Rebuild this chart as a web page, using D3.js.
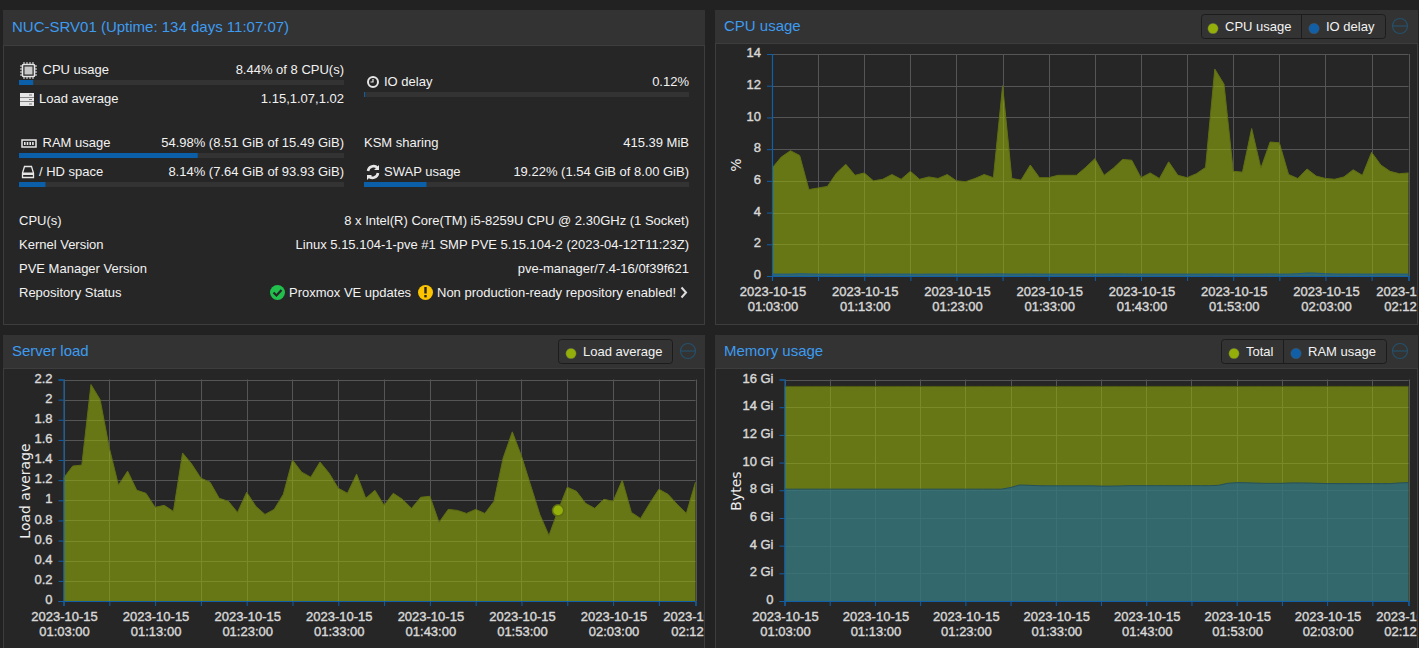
<!DOCTYPE html>
<html>
<head>
<meta charset="utf-8">
<script src="https://cdn.jsdelivr.net/npm/d3@7"></script>
<style>
  html, body { margin: 0; padding: 0; background: #222; overflow: hidden; }
  text { font-family: "Liberation Sans", Arial, sans-serif; }
</style>
</head>
<body>
<script>
var cpuValues = [6.8, 7.5, 7.9, 7.6, 5.45, 5.55, 5.65, 6.5, 7.05, 6.35, 6.5, 6.0, 6.1, 6.4, 6.1, 6.6, 6.1, 6.25, 6.15, 6.4,
  6.0, 5.95, 6.15, 6.4, 6.2, 12.0, 6.15, 6.05, 7.0, 6.2, 6.2, 6.35, 6.35, 6.35, 6.85, 7.4, 6.35, 6.8, 7.35, 7.3,
  6.2, 6.5, 6.15, 7.2, 6.35, 6.2, 6.45, 6.85, 13.05, 12.1, 6.6, 6.55, 9.3, 6.8, 8.45, 8.4, 6.4, 6.15, 6.75, 6.3,
  6.15, 6.1, 6.25, 6.7, 6.35, 7.8, 7.0, 6.6, 6.45, 6.5];
var ioValues = [0.12, 0.12, 0.12, 0.14, 0.13, 0.12, 0.12, 0.11, 0.12, 0.12, 0.12, 0.12, 0.12, 0.13, 0.12, 0.12, 0.11, 0.12, 0.12, 0.12,
  0.12, 0.12, 0.12, 0.12, 0.13, 0.13, 0.12, 0.12, 0.13, 0.12, 0.12, 0.12, 0.12, 0.12, 0.12, 0.12, 0.12, 0.13, 0.13, 0.12,
  0.12, 0.12, 0.12, 0.12, 0.12, 0.12, 0.12, 0.12, 0.13, 0.12, 0.12, 0.12, 0.12, 0.12, 0.13, 0.12, 0.12, 0.14, 0.19, 0.18,
  0.14, 0.13, 0.12, 0.13, 0.12, 0.12, 0.13, 0.13, 0.12, 0.12];
var loadValues = [1.22, 1.34, 1.35, 2.15, 2.0, 1.52, 1.15, 1.29, 1.10, 1.07, 0.93, 0.95, 0.89, 1.47, 1.36, 1.22, 1.18, 1.02, 0.99, 0.88,
  1.08, 0.94, 0.86, 0.91, 1.06, 1.40, 1.28, 1.23, 1.38, 1.27, 1.12, 1.07, 1.26, 1.02, 1.10, 0.95, 1.07, 1.01, 0.92, 1.03,
  1.04, 0.78, 0.91, 0.90, 0.87, 0.91, 0.87, 0.99, 1.42, 1.68, 1.44, 1.15, 0.86, 0.65, 0.90, 1.13, 1.09, 0.97, 0.92, 1.01,
  0.99, 1.20, 0.88, 0.82, 0.97, 1.11, 1.06, 0.96, 0.87, 1.18];
var memTotal = [15.5, 15.5, 15.5, 15.5, 15.5, 15.5, 15.5, 15.5, 15.5, 15.5, 15.5, 15.5, 15.5, 15.5, 15.5, 15.5, 15.5, 15.5, 15.5, 15.5,
  15.5, 15.5, 15.5, 15.5, 15.5, 15.5, 15.5, 15.5, 15.5, 15.5, 15.5, 15.5, 15.5, 15.5, 15.5, 15.5, 15.5, 15.5, 15.5, 15.5,
  15.5, 15.5, 15.5, 15.5, 15.5, 15.5, 15.5, 15.5, 15.5, 15.5, 15.5, 15.5, 15.5, 15.5, 15.5, 15.5, 15.5, 15.5, 15.5, 15.5,
  15.5, 15.5, 15.5, 15.5, 15.5, 15.5, 15.5, 15.5, 15.5, 15.5];
var memUsed = [8.08, 8.08, 8.08, 8.08, 8.08, 8.08, 8.08, 8.08, 8.08, 8.08, 8.08, 8.08, 8.08, 8.08, 8.08, 8.08, 8.08, 8.08, 8.08, 8.08,
  8.08, 8.08, 8.08, 8.08, 8.08, 8.2, 8.38, 8.36, 8.33, 8.32, 8.32, 8.32, 8.32, 8.32, 8.32, 8.3, 8.3, 8.31, 8.33, 8.33,
  8.33, 8.33, 8.33, 8.33, 8.33, 8.33, 8.33, 8.33, 8.36, 8.5, 8.55, 8.54, 8.52, 8.5, 8.5, 8.5, 8.53, 8.53, 8.52, 8.5,
  8.48, 8.48, 8.48, 8.48, 8.48, 8.48, 8.48, 8.48, 8.53, 8.55];

var startTime = new Date(2023, 9, 15, 1, 3);
var endTime = new Date(2023, 9, 15, 2, 12);
var times = d3.timeMinute.range(startTime, d3.timeMinute.offset(endTime, 1));

var cpuTicks = [0, 2, 4, 6, 8, 10, 12, 14];
var loadTicks = [0, 0.2, 0.4, 0.6, 0.8, 1, 1.2, 1.4, 1.6, 1.8, 2, 2.2];
var memTicks = [0, 2, 4, 6, 8, 10, 12, 14, 16];

var leftRows = [
  ["CPU usage", "8.44% of 8 CPU(s)", 74, 0.0435, "cpu"],
  ["Load average", "1.15,1.07,1.02", 103, null, "load"],
  ["RAM usage", "54.98% (8.51 GiB of 15.49 GiB)", 147, 0.5498, "ram"],
  ["/ HD space", "8.14% (7.64 GiB of 93.93 GiB)", 176, 0.0814, "hd"]
];
var rightRows = [
  ["IO delay", "0.12%", 86, 0.0012, "clock"],
  ["KSM sharing", "415.39 MiB", 147, null, null],
  ["SWAP usage", "19.22% (1.54 GiB of 8.00 GiB)", 176, 0.1922, "swap"]
];
var infoRows = [
  ["CPU(s)", "8 x Intel(R) Core(TM) i5-8259U CPU @ 2.30GHz (1 Socket)", 225],
  ["Kernel Version", "Linux 5.15.104-1-pve #1 SMP PVE 5.15.104-2 (2023-04-12T11:23Z)", 249],
  ["PVE Manager Version", "pve-manager/7.4-16/0f39f621", 273]
];

var olive = "#94ae0a", blue = "#115fa6", titleBlue = "#3d9bf0", textCol = "#f2f2f2", tickCol = "#d8d8d8";

var svg = d3.select("body").append("svg")
  .attr("width", 1419)
  .attr("height", 648)
  .style("display", "block");

function drawPanel(x, y, w, h, headH, title) {
  svg.append("rect").attr("x", x + 0.5).attr("y", y + 0.5).attr("width", w).attr("height", h)
    .attr("fill", "#262626").attr("stroke", "#3d3d3d");
  svg.append("rect").attr("x", x).attr("y", y).attr("width", w + 1).attr("height", headH)
    .attr("fill", "#333");
  svg.append("line").attr("x1", x).attr("x2", x + w).attr("y1", y + headH + 0.5).attr("y2", y + headH + 0.5)
    .attr("stroke", "#3d3d3d");
  svg.append("text").attr("x", x + 9).attr("y", y + (headH === 35 ? 22 : 21))
    .attr("fill", titleBlue).attr("font-size", 15).text(title);
}

function drawLegend(x0, x1, y, items) {
  svg.append("rect").attr("x", x0 + 0.5).attr("y", y + 0.5).attr("width", x1 - x0).attr("height", 24).attr("rx", 3)
    .attr("fill", "#333").attr("stroke", "#1c1c1c");
  items.forEach(function(it, i) {
    if (i > 0) {
      svg.append("line").attr("x1", it.x - 12.5).attr("x2", it.x - 12.5).attr("y1", y).attr("y2", y + 24)
        .attr("stroke", "#1c1c1c");
    }
    svg.append("circle").attr("cx", it.x).attr("cy", y + 14.5).attr("r", 5.2)
      .attr("fill", it.color).attr("stroke", "#555").attr("stroke-width", 0.4);
    svg.append("text").attr("x", it.x + 12).attr("y", y + 17)
      .attr("fill", textCol).attr("font-size", 13).text(it.label);
  });
}

function drawTool(cx, cy) {
  svg.append("circle").attr("cx", cx).attr("cy", cy).attr("r", 7.5)
    .attr("fill", "none").attr("stroke", "#25506a").attr("stroke-width", 1.2);
  svg.append("line").attr("x1", cx - 7).attr("x2", cx + 7).attr("y1", cy).attr("y2", cy)
    .attr("stroke", "#25506a").attr("stroke-width", 1.2);
}

var chartCount = 0;

// one rrd style chart: grid, filled areas, blue axes, two line time labels
function drawChart(opt) {
  var x = d3.scaleTime().domain([startTime, endTime]).range([opt.left, opt.right]);
  var y = d3.scaleLinear().domain(opt.domain).range([opt.bottom, opt.top]);
  var xTicks = d3.timeMinute.every(1).range(startTime, endTime)
    .filter(function(d, i) { return i % 5 === 0; }).concat([endTime]);

  var clipId = "clip" + (chartCount++);
  svg.append("clipPath").attr("id", clipId).append("rect")
    .attr("x", opt.left - 70).attr("y", opt.top - 20).attr("width", opt.clipRight - opt.left + 70).attr("height", 300);

  var grid = svg.append("g").attr("stroke", "#555").attr("stroke-width", 1);
  grid.selectAll(".h").data(opt.ticks).enter().append("line")
    .attr("x1", opt.left).attr("x2", opt.right)
    .attr("y1", function(d) { return Math.round(y(d)) + 0.5; })
    .attr("y2", function(d) { return Math.round(y(d)) + 0.5; });
  grid.selectAll(".v").data(xTicks).enter().append("line")
    .attr("y1", opt.top).attr("y2", opt.bottom)
    .attr("x1", function(d) { return Math.round(x(d)) + 0.5; })
    .attr("x2", function(d) { return Math.round(x(d)) + 0.5; });

  opt.series.forEach(function(s) {
    var area = d3.area()
      .x(function(d, i) { return x(times[i]); })
      .y0(opt.bottom)
      .y1(function(d) { return y(d); });
    var line = d3.line()
      .x(function(d, i) { return x(times[i]); })
      .y(function(d) { return y(d); });
    svg.append("path").datum(s.values).attr("d", area).attr("fill", s.color).attr("fill-opacity", 0.6);
    svg.append("path").datum(s.values).attr("d", line).attr("fill", "none")
      .attr("stroke", s.lineColor).attr("stroke-width", 1);
  });

  var yAxis = d3.axisLeft(y).tickValues(opt.ticks).tickSize(5).tickPadding(6).tickFormat(opt.format);
  var yG = svg.append("g").attr("transform", "translate(" + opt.left + ",0)").call(yAxis);

  var xAxis = d3.axisBottom(x).tickValues(xTicks).tickSize(5).tickFormat("");
  var xG = svg.append("g").attr("transform", "translate(0," + opt.bottom + ")").call(xAxis);

  [yG, xG].forEach(function(g) {
    g.select(".domain").attr("stroke", blue).attr("stroke-width", 1.2);
    g.selectAll(".tick line").attr("stroke", blue);
  });
  yG.selectAll(".tick text")
    .attr("fill", tickCol).attr("stroke", tickCol).attr("stroke-width", 0.4).attr("font-size", 13)
    .attr("font-family", "Liberation Sans").attr("dy", "0.2em");

  // every second tick carries a label, plus the last one
  var labelled = xTicks.filter(function(d, i) { return i % 2 === 0 || i === xTicks.length - 1; })
    .filter(function(d, i, a) { return d < d3.timeMinute.offset(endTime, -4) || i === a.length - 1; });
  var fmtDay = d3.timeFormat("%Y-%m-%d"), fmtTime = d3.timeFormat("%H:%M:%S");
  var labels = svg.append("g").attr("clip-path", "url(#" + clipId + ")")
    .selectAll("text").data(labelled).enter().append("text")
    .attr("text-anchor", "middle").attr("fill", tickCol).attr("stroke", tickCol).attr("stroke-width", 0.4).attr("font-size", 13);
  labels.append("tspan")
    .attr("x", function(d) { return x(d) + 1; }).attr("y", opt.bottom + 20)
    .text(fmtDay);
  labels.append("tspan")
    .attr("x", function(d) { return x(d) + 1; }).attr("y", opt.bottom + 35)
    .text(fmtTime);

  svg.append("text")
    .attr("transform", "translate(" + opt.titleX + "," + opt.titleY + ") rotate(-90)")
    .attr("text-anchor", "middle").attr("fill", "#eee")
    .style("font-family", "'DejaVu Sans'").attr("font-size", 14)
    .text(opt.title);

  return { x: x, y: y };
}

function icon(name, x, y) {
  var g = svg.append("g").attr("transform", "translate(" + x + "," + y + ")");
  var c = "#e6e6e6";
  if (name === "cpu") {
    g.append("rect").attr("x", 1.5).attr("y", -9.5).attr("width", 12).attr("height", 12).attr("rx", 1)
      .attr("fill", "none").attr("stroke", c).attr("stroke-width", 1.6);
    g.append("rect").attr("x", 3.5).attr("y", -7.5).attr("width", 8).attr("height", 8).attr("fill", "#c8c8c8");
    d3.range(4).forEach(function(i) {
      g.append("line").attr("x1", 3 + i * 3).attr("x2", 3 + i * 3).attr("y1", -12).attr("y2", 5)
        .attr("stroke", c).attr("stroke-dasharray", "2.5 12").attr("stroke-width", 1);
      g.append("line").attr("y1", -8 + i * 3).attr("y2", -8 + i * 3).attr("x1", -1).attr("x2", 16)
        .attr("stroke", c).attr("stroke-dasharray", "2.5 12").attr("stroke-width", 1);
    });
  } else if (name === "load") {
    [-10, -5.5, -1].forEach(function(dy) {
      g.append("rect").attr("x", 0).attr("y", dy).attr("width", 14).attr("height", 4).attr("fill", c);
      g.append("rect").attr("x", 9).attr("y", dy + 1.5).attr("width", 3).attr("height", 1).attr("fill", "#777");
    });
  } else if (name === "ram") {
    g.append("rect").attr("x", 1).attr("y", -7).attr("width", 14).attr("height", 7)
      .attr("fill", "none").attr("stroke", c).attr("stroke-width", 1.5);
    d3.range(4).forEach(function(i) {
      g.append("rect").attr("x", 3 + i * 2.7).attr("y", -5).attr("width", 1.6).attr("height", 3).attr("fill", c);
    });
  } else if (name === "hd") {
    g.append("path").attr("d", "M1.5,-3 L3.5,-9.5 H10.5 L12.5,-3 V1.5 H1.5 Z")
      .attr("fill", "none").attr("stroke", c).attr("stroke-width", 1.3);
    g.append("rect").attr("x", 1.5).attr("y", -3.5).attr("width", 11).attr("height", 2.5).attr("fill", c);
  } else if (name === "clock") {
    g.append("circle").attr("cx", 7).attr("cy", -4).attr("r", 5).attr("fill", "none").attr("stroke", c).attr("stroke-width", 2);
    g.append("path").attr("d", "M7,-7 V-4 H4.5").attr("fill", "none").attr("stroke", c).attr("stroke-width", 1.2);
  } else if (name === "swap") {
    g.append("path").attr("d", "M2,-5 A5.5,5.5 0 0 1 11.5,-8 M12,-3 A5.5,5.5 0 0 1 2.5,0")
      .attr("fill", "none").attr("stroke", c).attr("stroke-width", 2.6);
    g.append("path").attr("d", "M13,-11 V-6 H8 Z M1,4 V-1 H6 Z").attr("fill", c);
  }
}

function drawRows(rows, x0, x1) {
  rows.forEach(function(r) {
    var tx = x0;
    if (r[4]) {
      icon(r[4], x0 + (r[4] === "load" ? 1 : 2), r[2]);
      tx = x0 + 20;
      if (r[4] === "cpu" || r[4] === "ram") tx += 3.5;
    }
    svg.append("text").attr("x", tx).attr("y", r[2]).attr("fill", textCol).attr("font-size", 13).text(r[0]);
    svg.append("text").attr("x", x1).attr("y", r[2]).attr("text-anchor", "end").attr("fill", textCol).attr("font-size", 13).text(r[1]);
    if (r[3] !== null) {
      var bar = d3.scaleLinear().domain([0, 1]).range([0, x1 - x0]);
      svg.append("rect").attr("x", x0).attr("y", r[2] + 6).attr("width", x1 - x0).attr("height", 5).attr("fill", "#333");
      svg.append("rect").attr("x", x0).attr("y", r[2] + 6).attr("width", Math.max(bar(r[3]), 1)).attr("height", 5).attr("fill", "#0a5fa8");
    }
  });
}

// top left: node status
drawPanel(3, 10, 701, 314, 35, "NUC-SRV01 (Uptime: 134 days 11:07:07)");
drawRows(leftRows, 19, 344);
drawRows(rightRows, 364, 689);
infoRows.forEach(function(r) {
  svg.append("text").attr("x", 19).attr("y", r[2]).attr("fill", textCol).attr("font-size", 13).text(r[0]);
  svg.append("text").attr("x", 689).attr("y", r[2]).attr("text-anchor", "end").attr("fill", textCol).attr("font-size", 13).text(r[1]);
});
svg.append("text").attr("x", 19).attr("y", 297).attr("fill", textCol).attr("font-size", 13).text("Repository Status");
svg.append("circle").attr("cx", 277.5).attr("cy", 292.5).attr("r", 7.5).attr("fill", "#21bf4b");
svg.append("path").attr("d", "M273.5,292.5 L276.5,295.5 L281.5,290").attr("fill", "none").attr("stroke", "#262626").attr("stroke-width", 2.2);
svg.append("text").attr("x", 289).attr("y", 297).attr("fill", textCol).attr("font-size", 13).text("Proxmox VE updates");
svg.append("circle").attr("cx", 425.5).attr("cy", 292.5).attr("r", 7.5).attr("fill", "#fdc500");
svg.append("rect").attr("x", 424.3).attr("y", 287).attr("width", 2.4).attr("height", 6.5).attr("fill", "#262626");
svg.append("rect").attr("x", 424.3).attr("y", 295).attr("width", 2.4).attr("height", 2.4).attr("fill", "#262626");
svg.append("text").attr("x", 437).attr("y", 297).attr("fill", textCol).attr("font-size", 13).text("Non production-ready repository enabled!");
svg.append("path").attr("d", "M681.5,287.5 L686,292.5 L681.5,297.5").attr("fill", "none").attr("stroke", "#ddd").attr("stroke-width", 2);

// top right: cpu
drawPanel(715, 10, 702, 314, 33, "CPU usage");
drawLegend(1201, 1385, 14, [
  { x: 1213, color: olive, label: "CPU usage" },
  { x: 1314, color: blue, label: "IO delay" }
]);
drawTool(1400, 26);
drawChart({
  left: 772, right: 1408.5, top: 54, bottom: 276, clipRight: 1417,
  domain: [0, 14], ticks: cpuTicks, format: d3.format("d"),
  title: "%", titleX: 741, titleY: 165,
  series: [
    { values: cpuValues, color: olive, lineColor: "#5f6f12" },
    { values: ioValues, color: blue, lineColor: "#1a5a8c" }
  ]
});

// bottom left: load
drawPanel(3, 335, 701, 330, 33, "Server load");
drawLegend(558, 672, 339, [
  { x: 571, color: olive, label: "Load average" }
]);
drawTool(688, 351);
var loadChart = drawChart({
  left: 63.5, right: 695.5, top: 379.5, bottom: 601, clipRight: 704,
  domain: [0, 2.2], ticks: loadTicks, format: function(d) { return String(d); },
  title: "Load average", titleX: 30, titleY: 491,
  series: [{ values: loadValues, color: olive, lineColor: "#5f6f12" }]
});
// hover marker sitting on the line
svg.append("circle")
  .attr("cx", loadChart.x(times[54]))
  .attr("cy", loadChart.y(loadValues[54]))
  .attr("r", 5.6)
  .attr("fill", olive).attr("stroke", "#5f6f12").attr("stroke-width", 1.5);

// bottom right: memory
drawPanel(715, 335, 702, 330, 33, "Memory usage");
drawLegend(1221, 1386, 339, [
  { x: 1234, color: olive, label: "Total" },
  { x: 1296, color: blue, label: "RAM usage" }
]);
drawTool(1400, 351);
drawChart({
  left: 784.5, right: 1408.5, top: 379.5, bottom: 601, clipRight: 1417,
  domain: [0, 16], ticks: memTicks, format: function(d) { return d === 0 ? "0" : d + " Gi"; },
  title: "Bytes", titleX: 741, titleY: 491,
  series: [
    { values: memTotal, color: olive, lineColor: "#4f5c12" },
    { values: memUsed, color: blue, lineColor: "#24505c" }
  ]
});
</script>
</body>
</html>
